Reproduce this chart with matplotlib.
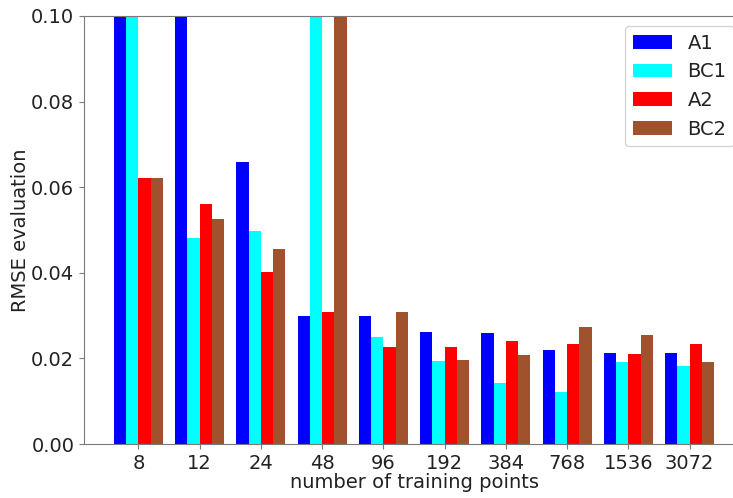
import numpy as np
import matplotlib
matplotlib.use("Agg")
import matplotlib.pyplot as plt

categories = ["8", "12", "24", "48", "96", "192", "384", "768", "1536", "3072"]
a1 = [0.12, 0.12, 0.0658, 0.0299, 0.0299, 0.0261, 0.0259, 0.0219, 0.0212, 0.0212]
bc1 = [0.12, 0.0482, 0.0497, 0.12, 0.0250, 0.0194, 0.0143, 0.0122, 0.0192, 0.0182]
a2 = [0.0621, 0.0560, 0.0401, 0.0308, 0.0227, 0.0226, 0.0240, 0.0233, 0.0210, 0.0233]
bc2 = [0.0621, 0.0525, 0.0455, 0.12, 0.0309, 0.0197, 0.0209, 0.0273, 0.0255, 0.0192]

series = [("A1", a1, "blue"), ("BC1", bc1, "cyan"),
          ("A2", a2, "red"), ("BC2", bc2, "sienna")]

edge = "#7a7a7a"
plt.rcParams.update({
    "font.size": 14,
    "text.color": "#222222",
    "axes.labelcolor": "#222222",
    "xtick.labelcolor": "#222222",
    "ytick.labelcolor": "#222222",
    "axes.edgecolor": edge,
    "xtick.color": edge,
    "ytick.color": edge,
})
fig = plt.figure(figsize=(7.33, 4.98), dpi=100)
ax = fig.add_axes([84 / 733, 54 / 498, 660 / 733, 428 / 498])

x = np.arange(len(categories))
width = 0.2
for i, (name, vals, color) in enumerate(series):
    ax.bar(x + (i - 1.5) * width, vals, width, color=color, label=name)

ax.set_ylim(0, 0.10)
ax.set_xlim(-0.89, 9.89)
ax.set_yticks([0.0, 0.02, 0.04, 0.06, 0.08, 0.10])
ax.set_yticklabels(["0.00", "0.02", "0.04", "0.06", "0.08", "0.10"])
ax.set_xticks(x)
ax.set_xticklabels(categories)
ax.set_xlabel("number of training points", labelpad=0)
ax.set_ylabel("RMSE evaluation", labelpad=1)
ax.legend(loc="upper right")

fig.savefig("out.png", dpi=100)
